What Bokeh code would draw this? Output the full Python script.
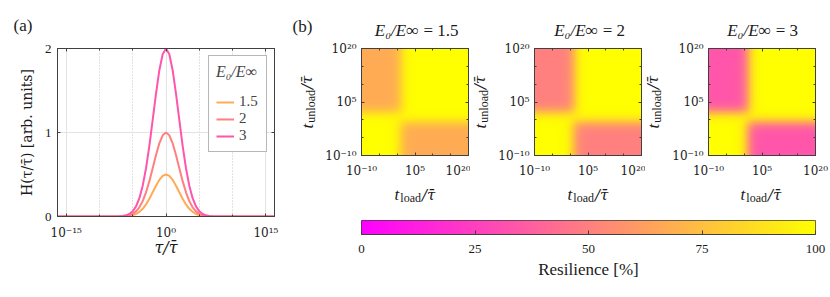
import numpy as np
from bokeh.plotting import figure
from bokeh.layouts import row, column
from bokeh.models import (FixedTicker, CustomJSTickFormatter, LogAxis, LinearAxis, Label,
                          LinearColorMapper, Legend, LegendItem)
from bokeh.embed import file_html
from bokeh.resources import INLINE

# ------------------------------------------------------------------ data
# panel (a): H(tau/tau_bar) at half-decade steps (exponent of tau/tau_bar)
tau_exp = [-17, -8, -7, -6.5, -6, -5.5, -5, -4.5, -4, -3.5, -3, -2.5, -2, -1.5, -1, -0.5, 0,
           0.5, 1, 1.5, 2, 2.5, 3, 3.5, 4, 4.5, 5, 5.5, 6, 6.5, 7, 8, 17]
h_ratio_1p5 = [0, 0, 0.001, 0.001, 0.003, 0.008, 0.016, 0.030, 0.055, 0.092, 0.144, 0.211, 0.288,
               0.366, 0.436, 0.483, 0.500, 0.483, 0.436, 0.366, 0.288, 0.211, 0.144, 0.092, 0.055,
               0.030, 0.016, 0.008, 0.003, 0.001, 0.001, 0, 0]
h_ratio_2 = [0, 0, 0.001, 0.003, 0.007, 0.015, 0.031, 0.061, 0.109, 0.183, 0.288, 0.421, 0.575,
             0.732, 0.871, 0.966, 1.000, 0.966, 0.871, 0.732, 0.575, 0.421, 0.288, 0.183, 0.109,
             0.061, 0.031, 0.015, 0.007, 0.003, 0.001, 0, 0]
h_ratio_3 = [0, 0, 0.002, 0.006, 0.014, 0.030, 0.063, 0.121, 0.218, 0.367, 0.575, 0.842, 1.150,
             1.464, 1.742, 1.932, 2.000, 1.932, 1.742, 1.464, 1.150, 0.842, 0.575, 0.367, 0.218,
             0.121, 0.063, 0.030, 0.014, 0.006, 0.002, 0, 0]
ratio_labels = ["1.5", "2", "3"]
tau_ticks = [1e-15, 1e0, 1e15]
tau_tick_labels = ["10⁻¹⁵", "10⁰", "10¹⁵"]
tau_minor_ticks = [1e-10, 1e-5, 1e5, 1e10]
h_ticks = [0, 1, 2]

# panel (b): loss-region profiles (exponent of t/tau_bar)
grid_exp = [-10, -5, -4, -3, -2, -1, 0, 1, 2, 3, 4, 5, 6, 20]
ul_x = [1, 1, 1.0, 0.993, 0.977, 0.93, 0.80, 0.56, 0.28, 0.107, 0.036, 0.011, 0, 0]     # upper-left region vs t_load
ul_y = [0, 0, 0, 0.002, 0.008, 0.025, 0.078, 0.215, 0.47, 0.74, 0.90, 0.968, 0.99, 1]  # vs t_unload
lr_x = [0, 0, 0.003, 0.01, 0.032, 0.097, 0.26, 0.53, 0.785, 0.922, 0.975, 0.992, 1, 1]  # lower-right vs t_load
lr_y = [1, 0.994, 0.982, 0.944, 0.839, 0.615, 0.33, 0.132, 0.045, 0.014, 0.004, 0, 0, 0]  # vs t_unload
resilience_min = [66.7, 50.0, 33.3]
t_ticks = [1e-10, 1e5, 1e20]
t_tick_labels = ["10⁻¹⁰", "10⁵", "10²⁰"]
t_minor_ticks = [1e-5, 1e0, 1e10, 1e15]
cb_ticks = [0, 25, 50, 75, 100]

# ------------------------------------------------------------------ style helpers
FONT = "Liberation Serif"
FONT2 = "DejaVu Serif"          # combining macron and superscript digits render properly
DARK = "#404040"
TXT = "#1a1a1a"
spring = ["#%02x%02x%02x" % (255, i, 255 - i) for i in range(256)]
mapper = LinearColorMapper(palette=spring, low=0, high=100)


def spring_color(v):
    return spring[int(round(v / 100 * 255))]


EM = {FONT: {'l': .278, 'o': .5, 'a': .444, 'd': .5, 'u': .5, 'n': .5, ' ': .25, '=': .564,
             '.': .25, '/': .278, 't': .278, 'E': .611, '₀': .45, '∞': .8},
      FONT2: {'/': .337, 'τ': .56, '\u0304': 0}}
GAP = 1.0


def text_width(s, size, font):
    return sum(EM[font].get(c, .5) for c in s) * size


def mk_label(x, y, t, size, style, font, align="left", angle=0.0, baseline="alphabetic"):
    return Label(x=x, y=y, text=t, text_font=font, text_font_size=f"{size}px",
                 text_font_style=style, text_color=TXT, text_align=align,
                 text_baseline=baseline, angle=angle)


def rich_label(p, x, y, pieces, vertical=False):
    """pieces: (text, size, style, baseline shift down, font) laid out side by side, centred on x."""
    total = sum(text_width(t, s, f) + GAP for t, s, st, sh, f in pieces) - GAP
    pos = -total / 2
    for t, s, st, shift, f in pieces:
        if vertical:
            p.add_layout(mk_label(x + shift, y + pos, t, s, st, f, angle=np.pi / 2))
        else:
            p.add_layout(mk_label(x + pos, y - shift, t, s, st, f))
        pos += text_width(t, s, f) + GAP


def title_label(p, x, y, left, right, size):
    """italic left part right-aligned, upright right part left-aligned one space further."""
    space = 0.3 * size
    w1 = text_width(left, size, FONT)
    w2 = text_width(right, size, FONT)
    j = x - (w1 + space + w2) / 2 + w1
    p.add_layout(mk_label(j, y, left, size, "italic", FONT, align="right", baseline="bottom"))
    p.add_layout(mk_label(j + space, y, right, size, "normal", FONT, align="left",
                          baseline="bottom"))


def tick_formatter(tick_values, labels):
    return CustomJSTickFormatter(args=dict(tv=tick_values, tl=labels), code="""
        for (let i = 0; i < tv.length; i++) {
            if (Math.abs(Math.log10(tv[i]) - Math.log10(tick)) < 1e-6) { return tl[i]; }
        }
        return "";
    """)


def style_axis(ax, standoff, font=FONT, size=13):
    ax.axis_line_color = DARK
    ax.major_tick_line_color = DARK
    ax.minor_tick_line_color = DARK
    ax.major_tick_in = 3
    ax.major_tick_out = 0
    ax.minor_tick_in = 2
    ax.minor_tick_out = 0
    ax.major_label_text_font = font
    ax.major_label_text_font_size = f"{size}px"
    ax.major_label_text_color = TXT
    ax.major_label_standoff = standoff
    ax.axis_label_text_font = FONT
    ax.axis_label_text_font_size = "17px"
    ax.axis_label_text_color = TXT
    ax.axis_label_text_font_style = "normal"


def empty_axis(cls, ticker):
    ax = cls(ticker=ticker, formatter=CustomJSTickFormatter(code="return '';"))
    style_axis(ax, 0)
    ax.major_label_text_font_size = "0px"
    return ax


def strip(width, height, x_range, y_range, left=0, right=0, top=0, bottom=0):
    s = figure(width=width, height=height, x_range=x_range, y_range=y_range,
               min_border_left=left, min_border_right=right, min_border_top=top,
               min_border_bottom=bottom, x_axis_location=None, y_axis_location=None,
               output_backend="svg", toolbar_location=None)
    s.outline_line_color = None
    s.grid.visible = False
    return s


# ------------------------------------------------------------------ layout constants (px)
TOTAL_W, TOTAL_H = 830, 297
A_W = 288                       # width of panel (a) figure
TOP_H = 40                      # strip holding (a), (b) and the map titles
ROW_TOP = 8                     # frame top of the plots = TOP_H + ROW_TOP
FRAME = 107
HEAT_BOT = 26
HEAT_H = ROW_TOP + FRAME + HEAT_BOT
XLAB_H = 27
B_W = TOTAL_W - A_W
parts = [(32, 41, 2), (24, 40, 4), (24, 38, 16)]   # (y-label strip, map left border, map right border)
CB_W = 454

top_strip = strip(TOTAL_W, TOP_H, (0, TOTAL_W), (0, TOP_H))
for txt, xx, yy in (("(a)", 13, 15), ("(b)", 292, 14)):
    top_strip.add_layout(Label(x=xx, y=yy, text=txt, text_font=FONT, text_font_size="17px",
                               text_baseline="middle", text_align="left", text_color=TXT))

# ------------------------------------------------------------------ panel (a)
tau = [10.0 ** e for e in tau_exp]
pa = figure(frame_width=217, frame_height=168, x_axis_type="log",
            x_range=(10 ** -16.3, 10 ** 16.3), y_range=(0, 2),
            min_border_left=57, min_border_right=14, min_border_top=ROW_TOP,
            min_border_bottom=TOTAL_H - TOP_H - ROW_TOP - 168,
            output_backend="svg", toolbar_location=None)
pa.outline_line_color = DARK
xt = FixedTicker(ticks=tau_ticks, minor_ticks=tau_minor_ticks)
yt = FixedTicker(ticks=h_ticks)
pa.xaxis[0].ticker = xt
pa.xaxis[0].formatter = tick_formatter(tau_ticks, tau_tick_labels)
pa.yaxis[0].ticker = yt
style_axis(pa.xaxis[0], 9, FONT2, 12)
style_axis(pa.yaxis[0], 6)
pa.xaxis[0].axis_label = "τ/τ̄"
pa.xaxis[0].axis_label_text_font = FONT2
pa.xaxis[0].axis_label_text_font_size = "16px"
pa.xaxis[0].axis_label_text_font_style = "italic"
pa.xaxis[0].axis_label_standoff = -5
pa.yaxis[0].axis_label = "H(τ/τ̄) [arb. units]"
pa.yaxis[0].axis_label_text_font = FONT2
pa.yaxis[0].axis_label_text_font_size = "14px"
pa.yaxis[0].axis_label_standoff = 7
pa.add_layout(empty_axis(LogAxis, xt), "above")
pa.add_layout(empty_axis(LinearAxis, yt), "right")
pa.xgrid.ticker = xt
pa.ygrid.ticker = yt
pa.xgrid.grid_line_color = "#e3e3e3"
pa.ygrid.grid_line_color = "#e3e3e3"
pa.xgrid.minor_grid_line_color = "#c4c4c4"
pa.xgrid.minor_grid_line_dash = "1 2"

items = []
for lab, h in zip(ratio_labels, [h_ratio_1p5, h_ratio_2, h_ratio_3]):
    col = spring_color(100.0 / float(lab))
    r = pa.line(tau, h, line_color=col, line_width=2)
    items.append(LegendItem(label=lab, renderers=[r]))
leg = Legend(items=items, location="top_right", title="E₀/E∞",
             title_text_font=FONT, title_text_font_size="16px", title_text_font_style="italic",
             title_standoff=12, label_text_font=FONT, label_text_font_size="15px",
             label_height=16, glyph_height=16, glyph_width=18, label_standoff=5,
             padding=7, spacing=0, margin=7, border_line_color="#707070",
             background_fill_color="white", background_fill_alpha=1.0)
pa.add_layout(leg, "center")

# ------------------------------------------------------------------ panel (b) maps
fine = np.linspace(-10, 20, 300)
ulx = np.interp(fine, grid_exp, ul_x)
uly = np.interp(fine, grid_exp, ul_y)
lrx = np.interp(fine, grid_exp, lr_x)
lry = np.interp(fine, grid_exp, lr_y)
loss = np.outer(uly, ulx) + np.outer(lry, lrx)

cb_left = parts[0][0] + parts[0][1]
xlab_strip = strip(B_W, XLAB_H, (cb_left, cb_left + CB_W), (0, XLAB_H),
                   left=cb_left, right=B_W - cb_left - CB_W)

row_children = []
cursor = 0
for k, (rmin, lab) in enumerate(zip(resilience_min, ratio_labels)):
    sw, bl, br = parts[k]
    ys = strip(sw, HEAT_H, (0, sw), (HEAT_BOT, HEAT_BOT + FRAME), top=ROW_TOP, bottom=HEAT_BOT)
    p = figure(frame_width=FRAME, frame_height=FRAME, x_axis_type="log", y_axis_type="log",
               x_range=(1e-10, 1e20), y_range=(1e-10, 1e20),
               min_border_left=bl, min_border_right=br, min_border_top=ROW_TOP,
               min_border_bottom=HEAT_BOT, output_backend="svg", toolbar_location=None)
    p.grid.visible = False
    p.outline_line_color = DARK
    res = 100 - (100 - rmin) * loss
    p.image(image=[res], x=1e-10, y=1e-10, dw=1e20, dh=1e20, color_mapper=mapper)
    tk = FixedTicker(ticks=t_ticks, minor_ticks=t_minor_ticks)
    for ax in (p.xaxis[0], p.yaxis[0]):
        ax.ticker = tk
        ax.formatter = tick_formatter(t_ticks, t_tick_labels)
    style_axis(p.xaxis[0], 8, FONT2, 12)
    style_axis(p.yaxis[0], 5, FONT2, 12)
    p.add_layout(empty_axis(LogAxis, tk), "above")
    p.add_layout(empty_axis(LogAxis, tk), "right")

    centre_local = cursor + sw + bl + FRAME / 2
    # title above the map:  E0/Einf = ...
    title_label(top_strip, A_W + centre_local, 0.5, "E₀/E∞", "= " + lab, 17)
    # x label under the map
    rich_label(xlab_strip, centre_local, 14,
               [("t", 17, "italic", 0, FONT), ("load", 12, "normal", 3.5, FONT),
                ("/τ̄", 15, "italic", 0, FONT2)])
    # y label left of the map
    rich_label(ys, sw + bl - 54.5, HEAT_BOT + FRAME / 2,
               [("t", 17, "italic", 0, FONT), ("unload", 12, "normal", 3.5, FONT),
                ("/τ̄", 15, "italic", 0, FONT2)], vertical=True)
    row_children += [ys, p]
    cursor += sw + bl + FRAME + br

# ------------------------------------------------------------------ colour bar
pc_h = TOTAL_H - TOP_H - HEAT_H - XLAB_H
pc = figure(frame_width=CB_W, frame_height=14, x_range=(0, 100), y_range=(0, 1),
            min_border_left=cb_left, min_border_right=B_W - cb_left - CB_W,
            min_border_top=12, min_border_bottom=pc_h - 26,
            y_axis_location=None, output_backend="svg", toolbar_location=None)
pc.grid.visible = False
pc.outline_line_color = DARK
pc.image(image=[np.array([np.linspace(0, 100, 256)])], x=0, y=0, dw=100, dh=1, color_mapper=mapper)
pc.xaxis[0].ticker = FixedTicker(ticks=cb_ticks)
style_axis(pc.xaxis[0], 10)
pc.xaxis[0].major_tick_in = 4
pc.xaxis[0].axis_label = "Resilience [%]"
pc.xaxis[0].axis_label_standoff = 4

layout = column(top_strip, row(pa, column(row(*row_children), xlab_strip, pc)))
open("out.html", "w").write(file_html(layout, INLINE))
